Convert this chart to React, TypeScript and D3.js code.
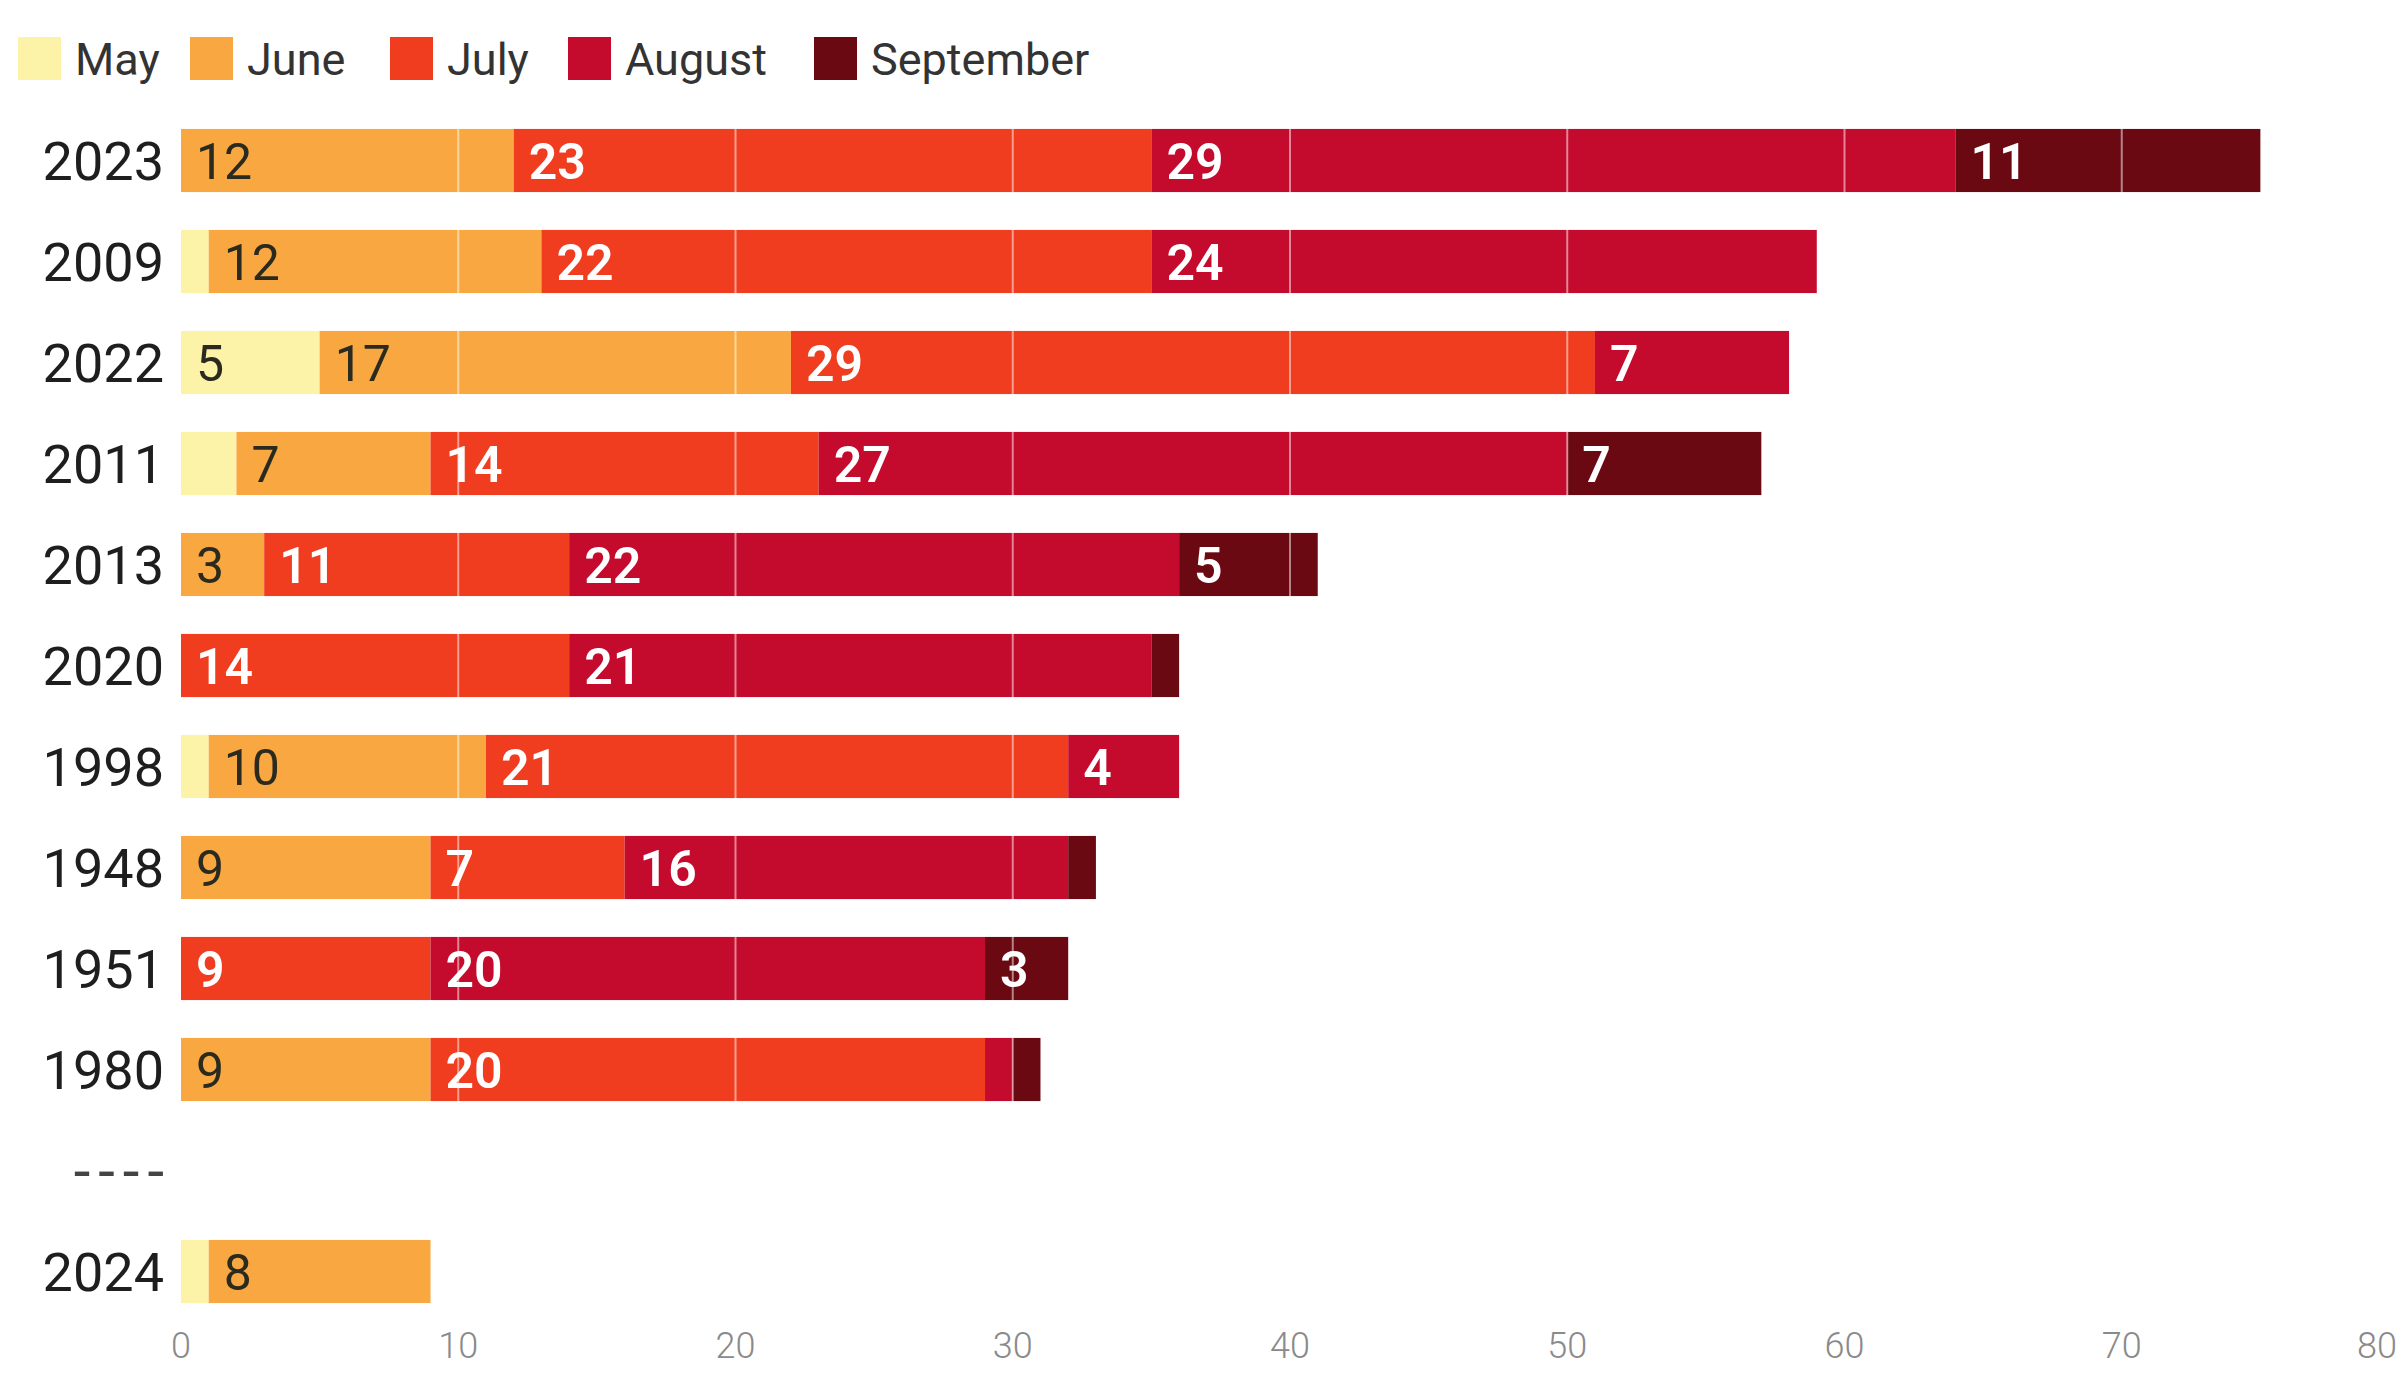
import React from "react";
import * as d3 from "d3";

const years = ["2023", "2009", "2022", "2011", "2013", "2020", "1998", "1948", "1951", "1980", "----", "2024"];
const months = ["May", "June", "July", "August", "September"];
const may = [0, 1, 5, 2, 0, 0, 1, 0, 0, 0, 0, 1];
const june = [12, 12, 17, 7, 3, 0, 10, 9, 0, 9, 0, 8];
const july = [23, 22, 29, 14, 11, 14, 21, 7, 9, 20, 0, 0];
const august = [29, 24, 7, 27, 22, 21, 4, 16, 20, 1, 0, 0];
const september = [11, 0, 0, 7, 5, 1, 0, 1, 3, 1, 0, 0];
const xTicks = [0, 10, 20, 30, 40, 50, 60, 70, 80];

const colors = ["#fdf3a8", "#f9a841", "#f03d1f", "#c40a2d", "#6a0912"];
const labelColors = ["#2b2a1e", "#2b2a1e", "#ffffff", "#ffffff", "#ffffff"];

const W = 2399;
const H = 1375;

export default function App() {
  const rows = years.map((y, i) => ({
    year: y,
    May: may[i],
    June: june[i],
    July: july[i],
    August: august[i],
    September: september[i],
  }));
  const stack = d3.stack<any>().keys(months)(rows);
  const x = d3.scaleLinear().domain([0, 80]).range([181, 2399]);
  const y = d3
    .scaleBand<string>()
    .domain(years)
    .range([110, 1322])
    .paddingInner(0.375)
    .paddingOuter(0.1875);
  const bw = y.bandwidth();

  const legendX = [18, 190, 390, 568, 814];

  return (
    <svg
      width={W}
      height={H}
      style={{ position: "absolute", left: 0, top: 0, background: "#fff" }}
      fontFamily="Roboto, 'Noto Sans', sans-serif"
    >
      <rect x={0} y={0} width={W} height={H} fill="#fff" />
      {/* legend */}
      {months.map((m, i) => (
        <g key={m}>
          <rect x={legendX[i]} y={37} width={43} height={43} fill={colors[i]} />
          <text x={legendX[i] + 57} y={59} dominantBaseline="central" fontSize={45} fill="#333">
            {m}
          </text>
        </g>
      ))}
      {/* bars */}
      {stack.map((s, si) => (
        <g key={s.key}>
          {s.map((d, i) =>
            d[1] - d[0] > 0 ? (
              <rect
                key={i}
                x={x(d[0])}
                y={y(years[i])}
                width={x(d[1]) - x(d[0])}
                height={bw}
                fill={colors[si]}
              />
            ) : null
          )}
        </g>
      ))}
      {/* white gridlines over bars */}
      {xTicks.slice(1, -1).map((t) => (
        <line key={t} x1={x(t)} x2={x(t)} y1={110} y2={1322} stroke="#ffffff" strokeOpacity={0.5} strokeWidth={2} />
      ))}
      {/* segment labels */}
      {stack.map((s, si) => (
        <g key={s.key + "l"}>
          {s.map((d, i) =>
            d[1] - d[0] > 2 ? (
              <text
                key={i}
                x={x(d[0]) + 15}
                y={(y(years[i]) as number) + bw / 2 + 1}
                dominantBaseline="central"
                fontSize={50}
                fontWeight={si >= 2 ? 600 : 400}
                fill={labelColors[si]}
              >
                {d[1] - d[0]}
              </text>
            ) : null
          )}
        </g>
      ))}
      {/* year labels */}
      {years.map((yr) => (
        <text
          key={yr}
          x={yr === "----" ? 172 : 164}
          y={(y(yr) as number) + bw / 2 + 1}
          textAnchor="end"
          dominantBaseline="central"
          fontSize={yr === "----" ? 60 : 54}
          fill={yr === "----" ? "#444" : "#1e1e1e"}
          letterSpacing={yr === "----" ? 8 : 0}
        >
          {yr}
        </text>
      ))}
      {/* x axis labels */}
      {xTicks.map((t, i) => (
        <text
          key={t}
          x={i === xTicks.length - 1 ? W - 2 : x(t)}
          y={1346}
          textAnchor={i === xTicks.length - 1 ? "end" : "middle"}
          dominantBaseline="central"
          fontSize={36}
          fontWeight={300}
          fill="#8a8a8a"
        >
          {t}
        </text>
      ))}
    </svg>
  );
}
